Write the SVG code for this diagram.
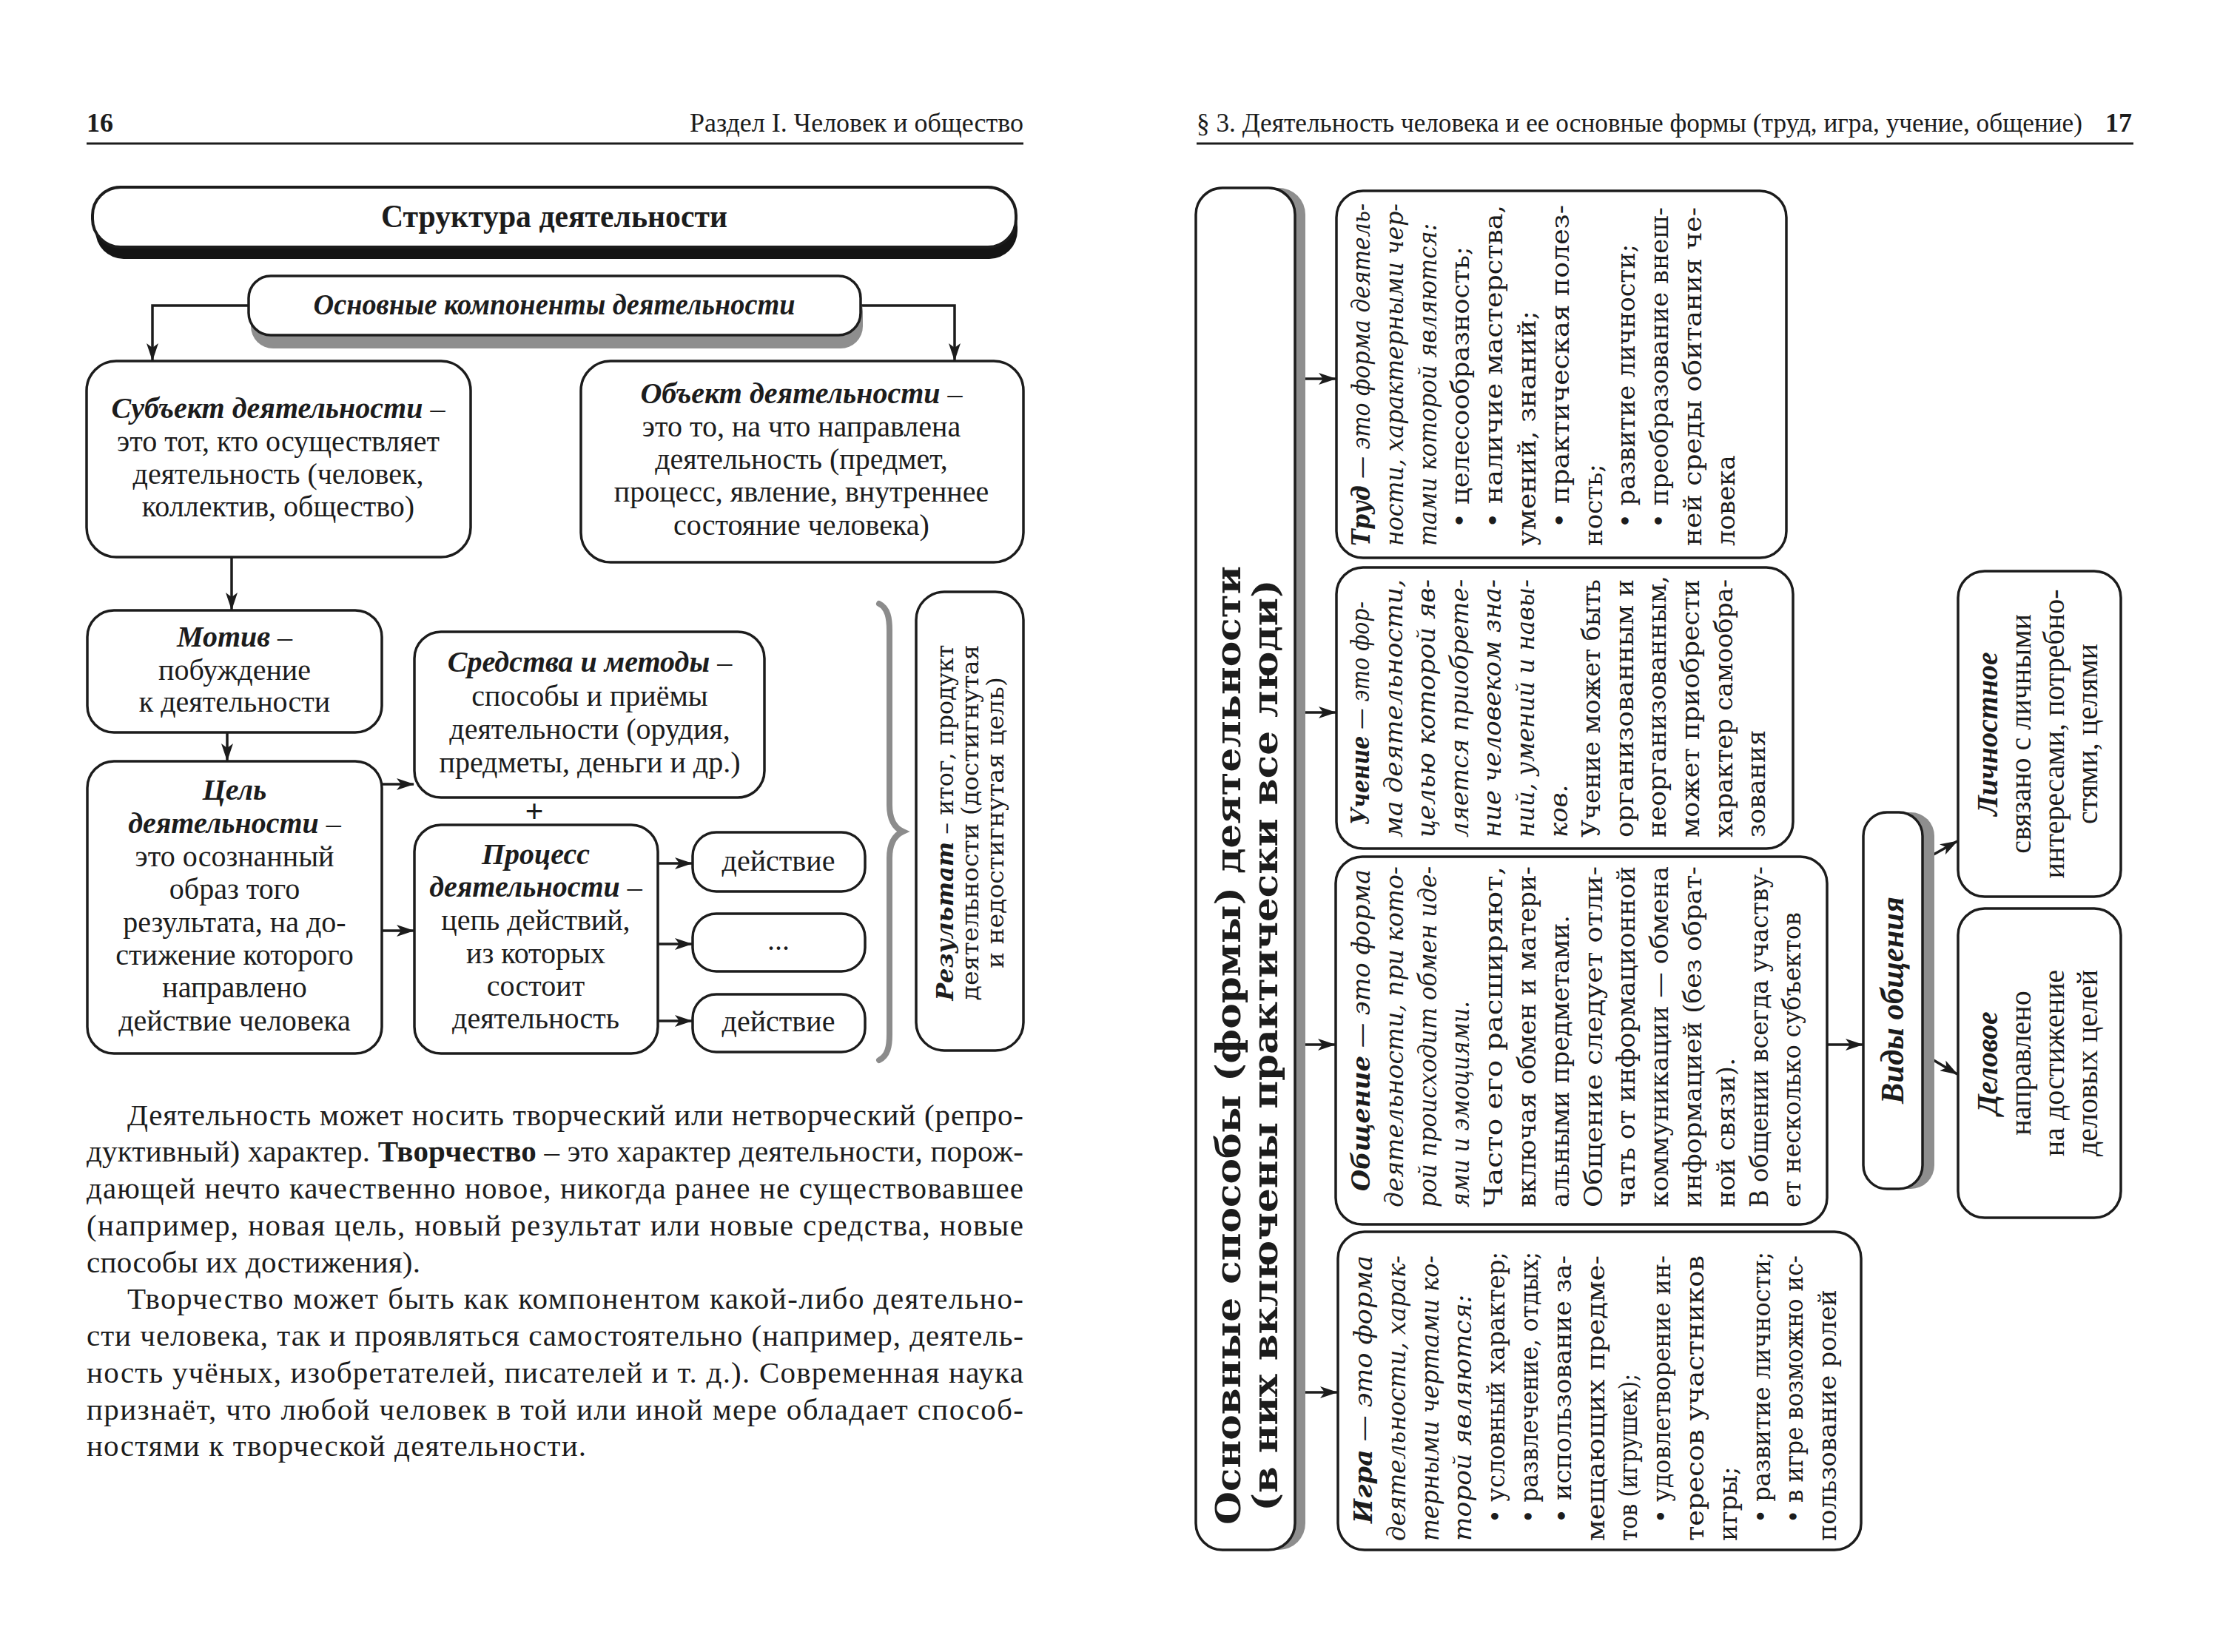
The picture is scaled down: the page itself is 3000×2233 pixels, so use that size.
<svg xmlns="http://www.w3.org/2000/svg" width="3000" height="2233" viewBox="0 0 3000 2233">
<defs>
<style>
.bx{fill:#fff;stroke:#1c1c1c;stroke-width:3.5}
.ln{fill:none;stroke:#1c1c1c;stroke-width:3.5}
.t{font-family:"Liberation Serif","Times New Roman",serif;font-size:40px;fill:#1c1c1c}
.tc{text-anchor:middle}
.r{font-family:"DejaVu Serif",serif;font-size:34px;fill:#1c1c1c}
.bi{font-weight:bold;font-style:italic}
.i{font-style:italic}
.b{font-weight:bold}
.hd{font-family:"Liberation Serif",serif;font-size:36px;fill:#1c1c1c}
.p{font-family:"Liberation Serif",serif;font-size:41px;fill:#1c1c1c}
.sh{fill:#8e8e8e}
.rule{stroke:#1c1c1c;stroke-width:3}
</style>
<marker id="ah" viewBox="0 0 24 16" refX="23" refY="8" markerWidth="24" markerHeight="16" markerUnits="userSpaceOnUse" orient="auto"><path d="M0,0 L24,8 L0,16 L6,8 Z" fill="#1c1c1c"/></marker>
</defs>
<rect x="0" y="0" width="3000" height="2233" fill="#fff"/>

<g id="headers">
<text class="hd b" x="117" y="178">16</text>
<text class="hd" x="1383" y="178" text-anchor="end">Раздел I. Человек и общество</text>
<line class="rule" x1="117" y1="194" x2="1383" y2="194"/>
<text class="hd" x="1617" y="178" textLength="1197" lengthAdjust="spacingAndGlyphs">§ 3. Деятельность человека и ее основные формы (труд, игра, учение, общение)</text>
<text class="hd b" x="2881" y="178" text-anchor="end">17</text>
<line class="rule" x1="1617" y1="194" x2="2883" y2="194"/>
</g>

<g id="connectors">
<path class="ln" d="M336,413 H206 V487" marker-end="url(#ah)"/>
<path class="ln" d="M1163,413 H1290 V487" marker-end="url(#ah)"/>
<path class="ln" d="M313,753 V824" marker-end="url(#ah)"/>
<path class="ln" d="M307,990 V1028" marker-end="url(#ah)"/>
<path class="ln" d="M516,1060 H559" marker-end="url(#ah)"/>
<path class="ln" d="M516,1258 H559" marker-end="url(#ah)"/>
<path class="ln" d="M889,1167 H935" marker-end="url(#ah)"/>
<path class="ln" d="M889,1276 H935" marker-end="url(#ah)"/>
<path class="ln" d="M889,1380 H935" marker-end="url(#ah)"/>
<path class="ln" d="M1764,512 H1805" marker-end="url(#ah)"/>
<path class="ln" d="M1764,963 H1805" marker-end="url(#ah)"/>
<path class="ln" d="M1764,1412 H1804" marker-end="url(#ah)"/>
<path class="ln" d="M1764,1882 H1807" marker-end="url(#ah)"/>
<path class="ln" d="M2469,1412 H2517" marker-end="url(#ah)"/>
<path class="ln" d="M2613,1155 L2645,1137" marker-end="url(#ah)"/>
<path class="ln" d="M2613,1433 L2645,1452" marker-end="url(#ah)"/>
<path d="M1188,816 C1200,822 1202,836 1202,852 L1202,1088 C1202,1108 1209,1119 1220,1124 C1209,1129 1202,1140 1202,1160 L1202,1398 C1202,1414 1200,1427 1188,1433" fill="none" stroke="#8c8c8c" stroke-width="8" stroke-linecap="round"/>
</g>

<g id="title">
<rect x="129" y="269" width="1246" height="81" rx="38" fill="#151515"/>
<rect class="bx" x="125" y="253" width="1248" height="81" rx="38" style="stroke-width:4"/>
<text class="t b tc" x="749" y="307" style="font-size:44px" textLength="468" lengthAdjust="spacingAndGlyphs">Структура деятельности</text>
</g>

<g id="components">
<rect class="sh" x="339" y="391" width="827" height="80" rx="30"/>
<rect class="bx" x="336" y="373" width="827" height="80" rx="30"/>
<text class="t bi tc" x="749" y="425" textLength="651" lengthAdjust="spacingAndGlyphs">Основные компоненты деятельности</text>
</g>

<g id="subject">
<rect class="bx" x="117" y="488" width="519" height="265" rx="40"/>
<text class="t tc" x="376" y="565"><tspan class="bi">Субъект деятельности</tspan> –</text>
<text class="t tc" x="376" y="610">это тот, кто осуществляет</text>
<text class="t tc" x="376" y="654">деятельность (человек,</text>
<text class="t tc" x="376" y="698">коллектив, общество)</text>
</g>

<g id="object">
<rect class="bx" x="785" y="488" width="598" height="272" rx="40"/>
<text class="t tc" x="1083" y="545"><tspan class="bi">Объект деятельности</tspan> –</text>
<text class="t tc" x="1083" y="590">это то, на что направлена</text>
<text class="t tc" x="1083" y="634">деятельность (предмет,</text>
<text class="t tc" x="1083" y="678">процесс, явление, внутреннее</text>
<text class="t tc" x="1083" y="723">состояние человека)</text>
</g>

<g id="motive">
<rect class="bx" x="118" y="825" width="398" height="165" rx="36"/>
<text class="t tc" x="317" y="874"><tspan class="bi">Мотив</tspan> –</text>
<text class="t tc" x="317" y="919">побуждение</text>
<text class="t tc" x="317" y="962">к деятельности</text>
</g>

<g id="goal">
<rect class="bx" x="118" y="1029" width="398" height="395" rx="36"/>
<text class="t tc bi" x="317" y="1081">Цель</text>
<text class="t tc" x="317" y="1126"><tspan class="bi">деятельности</tspan> –</text>
<text class="t tc" x="317" y="1171">это осознанный</text>
<text class="t tc" x="317" y="1215">образ того</text>
<text class="t tc" x="317" y="1260">результата, на до-</text>
<text class="t tc" x="317" y="1304">стижение которого</text>
<text class="t tc" x="317" y="1348">направлено</text>
<text class="t tc" x="317" y="1393">действие человека</text>
</g>

<g id="means">
<rect class="bx" x="560" y="854" width="473" height="224" rx="36"/>
<text class="t tc" x="797" y="908"><tspan class="bi">Средства и методы</tspan> –</text>
<text class="t tc" x="797" y="954">способы и приёмы</text>
<text class="t tc" x="797" y="999">деятельности (орудия,</text>
<text class="t tc" x="797" y="1044">предметы, деньги и др.)</text>
</g>

<text class="t b tc" x="722" y="1111" style="font-size:44px">+</text>

<g id="process">
<rect class="bx" x="560" y="1115" width="329" height="309" rx="36"/>
<text class="t tc bi" x="724" y="1168">Процесс</text>
<text class="t tc" x="724" y="1212"><tspan class="bi">деятельности</tspan> –</text>
<text class="t tc" x="724" y="1257">цепь действий,</text>
<text class="t tc" x="724" y="1302">из которых</text>
<text class="t tc" x="724" y="1346">состоит</text>
<text class="t tc" x="724" y="1390">деятельность</text>
</g>

<g id="action1">
<rect class="bx" x="936" y="1125" width="233" height="80" rx="32"/>
<text class="t tc" x="1052" y="1177">действие</text>
</g>
<g id="action2">
<rect class="bx" x="936" y="1235" width="233" height="78" rx="32"/>
<text class="t tc" x="1052" y="1284">...</text>
</g>
<g id="action3">
<rect class="bx" x="936" y="1344" width="233" height="78" rx="32"/>
<text class="t tc" x="1052" y="1394">действие</text>
</g>

<g id="result">
<rect class="bx" x="1238" y="800" width="145" height="620" rx="38"/>
<g class="r tc" transform="translate(1278,1112) rotate(-90)" style="font-size:31px">
<text x="0" y="10" textLength="481" lengthAdjust="spacingAndGlyphs"><tspan class="bi">Результат</tspan> – итог, продукт</text>
<text x="0" y="44" textLength="481" lengthAdjust="spacingAndGlyphs">деятельности (достигнутая</text>
<text x="0" y="78" textLength="394" lengthAdjust="spacingAndGlyphs">и недостигнутая цель)</text>
</g>
</g>

<g id="paragraph" class="p">
<text x="172" y="1521" textLength="1211" lengthAdjust="spacing">Деятельность может носить творческий или нетворческий (репро-</text>
<text x="117" y="1570" textLength="1266" lengthAdjust="spacing">дуктивный) характер. <tspan class="b">Творчество</tspan> – это характер деятельности, порож-</text>
<text x="117" y="1620" textLength="1266" lengthAdjust="spacing">дающей нечто качественно новое, никогда ранее не существовавшее</text>
<text x="117" y="1670" textLength="1266" lengthAdjust="spacing">(например, новая цель, новый результат или новые средства, новые</text>
<text x="117" y="1720" textLength="451" lengthAdjust="spacing">способы их достижения).</text>
<text x="172" y="1769" textLength="1211" lengthAdjust="spacing">Творчество может быть как компонентом какой-либо деятельно-</text>
<text x="117" y="1819" textLength="1266" lengthAdjust="spacing">сти человека, так и проявляться самостоятельно (например, деятель-</text>
<text x="117" y="1869" textLength="1266" lengthAdjust="spacing">ность учёных, изобретателей, писателей и т. д.). Современная наука</text>
<text x="117" y="1919" textLength="1266" lengthAdjust="spacing">признаёт, что любой человек в той или иной мере обладает способ-</text>
<text x="117" y="1968" textLength="675" lengthAdjust="spacing">ностями к творческой деятельности.</text>
</g>

<g id="forms">
<rect class="sh" x="1630" y="254" width="134" height="1841" rx="36"/>
<rect class="bx" x="1616" y="254" width="134" height="1841" rx="36"/>
<g class="r b tc" transform="translate(1660,1413) rotate(-90)" style="font-size:46px">
<text x="0" y="16" textLength="1296" lengthAdjust="spacingAndGlyphs">Основные способы (формы) деятельности</text>
<text x="0" y="66" textLength="1259" lengthAdjust="spacingAndGlyphs">(в них включены практически все люди)</text>
</g>
</g>

<g id="labor">
<rect class="bx" x="1806" y="258" width="608" height="496" rx="36"/>
<g class="r" transform="translate(1841,738) rotate(-90)">
<text x="0" y="10" textLength="463" lengthAdjust="spacingAndGlyphs"><tspan class="bi">Труд</tspan><tspan class="i"> — это форма деятель-</tspan></text>
<text class="i" x="0" y="54.8" textLength="463" lengthAdjust="spacingAndGlyphs">ности, характерными чер-</text>
<text class="i" x="0" y="99.6" textLength="436" lengthAdjust="spacingAndGlyphs">тами которой являются:</text>
<text x="24" y="144.4" textLength="381" lengthAdjust="spacingAndGlyphs">• целесообразность;</text>
<text x="24" y="189.2" textLength="437" lengthAdjust="spacingAndGlyphs">• наличие мастерства,</text>
<text x="0" y="234" textLength="318" lengthAdjust="spacingAndGlyphs">умений, знаний;</text>
<text x="24" y="278.8" textLength="437" lengthAdjust="spacingAndGlyphs">• практическая полез-</text>
<text x="0" y="323.6">ность;</text>
<text x="24" y="368.4" textLength="384" lengthAdjust="spacingAndGlyphs">• развитие личности;</text>
<text x="24" y="413.2" textLength="434" lengthAdjust="spacingAndGlyphs">• преобразование внеш-</text>
<text x="0" y="458" textLength="458" lengthAdjust="spacingAndGlyphs">ней среды обитания че-</text>
<text x="0" y="502.8">ловека</text>
</g>
</g>

<g id="study">
<rect class="bx" x="1806" y="767" width="617" height="380" rx="36"/>
<g class="r" transform="translate(1840,1132) rotate(-90)">
<text x="17" y="10" textLength="302" lengthAdjust="spacingAndGlyphs"><tspan class="bi">Учение</tspan><tspan class="i"> — это фор-</tspan></text>
<text class="i" x="0" y="54.6" textLength="349" lengthAdjust="spacingAndGlyphs">ма деятельности,</text>
<text class="i" x="0" y="99.2" textLength="349" lengthAdjust="spacingAndGlyphs">целью которой яв-</text>
<text class="i" x="0" y="143.8" textLength="349" lengthAdjust="spacingAndGlyphs">ляется приобрете-</text>
<text class="i" x="0" y="188.4" textLength="349" lengthAdjust="spacingAndGlyphs">ние человеком зна-</text>
<text class="i" x="0" y="233" textLength="349" lengthAdjust="spacingAndGlyphs">ний, умений и навы-</text>
<text class="i" x="0" y="277.6">ков.</text>
<text x="0" y="322.2" textLength="349" lengthAdjust="spacingAndGlyphs">Учение может быть</text>
<text x="0" y="366.8" textLength="349" lengthAdjust="spacingAndGlyphs">организованным и</text>
<text x="0" y="411.4" textLength="354" lengthAdjust="spacingAndGlyphs">неорганизованным,</text>
<text x="0" y="456" textLength="349" lengthAdjust="spacingAndGlyphs">может приобрести</text>
<text x="0" y="500.6" textLength="349" lengthAdjust="spacingAndGlyphs">характер самообра-</text>
<text x="0" y="545.2">зования</text>
</g>
</g>

<g id="communication">
<rect class="bx" x="1805" y="1158" width="664" height="497" rx="36"/>
<g class="r" transform="translate(1841,1632) rotate(-90)">
<text x="22" y="10" textLength="435" lengthAdjust="spacingAndGlyphs"><tspan class="bi">Общение</tspan><tspan class="i"> — это форма</tspan></text>
<text class="i" x="0" y="54.8" textLength="461" lengthAdjust="spacingAndGlyphs">деятельности, при кото-</text>
<text class="i" x="0" y="99.6" textLength="461" lengthAdjust="spacingAndGlyphs">рой происходит обмен иде-</text>
<text class="i" x="0" y="144.4" textLength="279" lengthAdjust="spacingAndGlyphs">ями и эмоциями.</text>
<text x="0" y="189.2" textLength="461" lengthAdjust="spacingAndGlyphs">Часто его расширяют,</text>
<text x="0" y="234" textLength="461" lengthAdjust="spacingAndGlyphs">включая обмен и матери-</text>
<text x="0" y="278.8" textLength="395" lengthAdjust="spacingAndGlyphs">альными предметами.</text>
<text x="0" y="323.6" textLength="461" lengthAdjust="spacingAndGlyphs">Общение следует отли-</text>
<text x="0" y="368.4" textLength="461" lengthAdjust="spacingAndGlyphs">чать от информационной</text>
<text x="0" y="413.2" textLength="461" lengthAdjust="spacingAndGlyphs">коммуникации — обмена</text>
<text x="0" y="458" textLength="461" lengthAdjust="spacingAndGlyphs">информацией (без обрат-</text>
<text x="0" y="502.8" textLength="202" lengthAdjust="spacingAndGlyphs">ной связи).</text>
<text x="0" y="547.6" textLength="461" lengthAdjust="spacingAndGlyphs">В общении всегда участву-</text>
<text x="0" y="592.4" textLength="399" lengthAdjust="spacingAndGlyphs">ет несколько субъектов</text>
</g>
</g>

<g id="game">
<rect class="bx" x="1808" y="1665" width="707" height="430" rx="36"/>
<g class="r" transform="translate(1844,2083) rotate(-90)">
<text x="24" y="10" textLength="362" lengthAdjust="spacingAndGlyphs"><tspan class="bi">Игра</tspan><tspan class="i"> — это форма</tspan></text>
<text class="i" x="0" y="54.8" textLength="386" lengthAdjust="spacingAndGlyphs">деятельности, харак-</text>
<text class="i" x="0" y="99.6" textLength="386" lengthAdjust="spacingAndGlyphs">терными чертами ко-</text>
<text class="i" x="0" y="144.4" textLength="333" lengthAdjust="spacingAndGlyphs">торой являются:</text>
<text x="24" y="189.2" textLength="367" lengthAdjust="spacingAndGlyphs">• условный характер;</text>
<text x="24" y="234" textLength="367" lengthAdjust="spacingAndGlyphs">• развлечение, отдых;</text>
<text x="24" y="278.8" textLength="362" lengthAdjust="spacingAndGlyphs">• использование за-</text>
<text x="0" y="323.6" textLength="386" lengthAdjust="spacingAndGlyphs">мещающих предме-</text>
<text x="0" y="368.4" textLength="226" lengthAdjust="spacingAndGlyphs">тов (игрушек);</text>
<text x="24" y="413.2" textLength="362" lengthAdjust="spacingAndGlyphs">• удовлетворение ин-</text>
<text x="0" y="458" textLength="386" lengthAdjust="spacingAndGlyphs">тересов участников</text>
<text x="0" y="502.8">игры;</text>
<text x="24" y="547.6" textLength="367" lengthAdjust="spacingAndGlyphs">• развитие личности;</text>
<text x="24" y="592.4" textLength="362" lengthAdjust="spacingAndGlyphs">• в игре возможно ис-</text>
<text x="0" y="637.2" textLength="340" lengthAdjust="spacingAndGlyphs">пользование ролей</text>
</g>
</g>

<g id="kinds">
<rect class="sh" x="2534" y="1098" width="80" height="509" rx="32"/>
<rect class="bx" x="2518" y="1098" width="80" height="509" rx="32"/>
<g class="t bi tc" transform="translate(2558,1352) rotate(-90)" style="font-size:44px">
<text x="0" y="14" textLength="280" lengthAdjust="spacingAndGlyphs">Виды общения</text>
</g>
</g>

<g id="personal">
<rect class="bx" x="2646" y="772" width="220" height="440" rx="36"/>
<g class="t tc" transform="translate(2690,992) rotate(-90)">
<text class="bi" x="0" y="9">Личностное</text>
<text x="0" y="54">связано с личными</text>
<text x="0" y="99">интересами, потребно-</text>
<text x="0" y="144">стями, целями</text>
</g>
</g>

<g id="business">
<rect class="bx" x="2646" y="1228" width="220" height="418" rx="36"/>
<g class="t tc" transform="translate(2690,1437) rotate(-90)">
<text class="bi" x="0" y="9">Деловое</text>
<text x="0" y="54">направлено</text>
<text x="0" y="99">на достижение</text>
<text x="0" y="144">деловых целей</text>
</g>
</g>
</svg>
